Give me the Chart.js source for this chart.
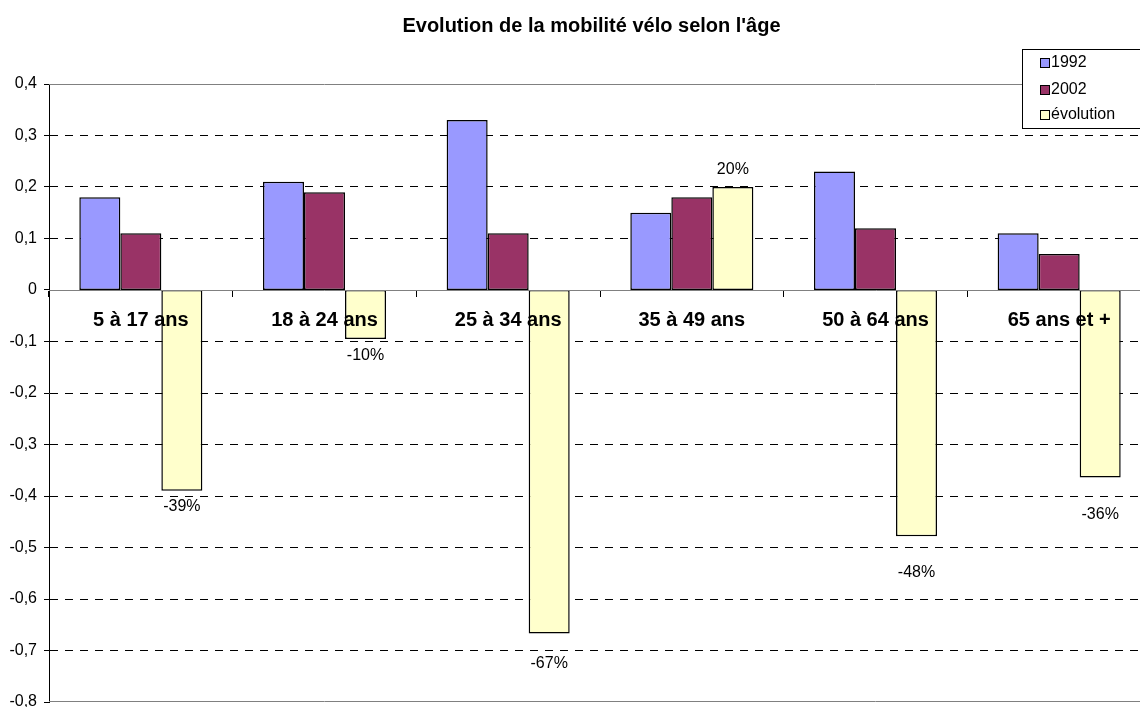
<!DOCTYPE html>
<html><head><meta charset="utf-8">
<script src="https://cdn.jsdelivr.net/npm/chart.js@4.4.0/dist/chart.umd.min.js"></script>
<style>html,body{margin:0;padding:0;overflow:hidden;background:#fff}</style>
</head><body>
<canvas id="c" width="1183" height="715"></canvas>
<script>
const chartTitle = "Evolution de la mobilité vélo selon l'âge";
const categories = ['5 à 17 ans', '18 à 24 ans', '25 à 34 ans', '35 à 49 ans', '50 à 64 ans', '65 ans et +'];
const seriesNames = ['1992', '2002', 'évolution'];
const values1992 = [0.18, 0.21, 0.33, 0.15, 0.23, 0.11];
const values2002 = [0.11, 0.19, 0.11, 0.18, 0.12, 0.07];
const valuesEvolution = [-0.39, -0.095, -0.667, 0.20, -0.478, -0.364];
const yMin = -0.8, yMax = 0.4, yStep = 0.1;
const colors = ['#9999FF', '#993366', '#FFFFCC'];
// distance (px) of each évolution label from the end of its bar (labels were moved in the original)
const labelGap = [16, 17, 30, 17, 36, 37];
const FONT = "'Liberation Sans', Arial, sans-serif";

function fmtTick(v) {
  if (Math.abs(v) < 1e-9) return '0';
  return v.toFixed(1).replace('.', ',');
}
function fmtPct(v) {
  return (v < 0 ? '-' : '') + Math.round(Math.abs(v) * 100) + '%';
}
function isEdge(v) {
  return Math.abs(v - yMax) < 1e-6 || Math.abs(v - yMin) < 1e-6 || Math.abs(v) < 1e-6;
}

const framePlugin = {
  id: 'frame',
  beforeDatasetsDraw(chart) {
    const {ctx, chartArea: a, scales: {y}} = chart;
    ctx.save();
    ctx.strokeStyle = '#808080';
    ctx.lineWidth = 1;
    [yMax, yMin].forEach(v => {
      const py = Math.round(y.getPixelForValue(v)) + 0.5 - (v === yMin ? 1 : 0);
      ctx.beginPath(); ctx.moveTo(a.left, py); ctx.lineTo(a.right, py); ctx.stroke();
    });
    ctx.restore();
  }
};

const labelPlugin = {
  id: 'evoLabels',
  afterDatasetsDraw(chart) {
    const {ctx} = chart;
    const meta = chart.getDatasetMeta(2);
    const data = chart.data.datasets[2].data;
    ctx.save();
    ctx.font = '16px ' + FONT;
    ctx.fillStyle = '#000';
    ctx.textAlign = 'center';
    ctx.textBaseline = 'middle';
    meta.data.forEach((el, i) => {
      const v = data[i];
      const g = labelGap[i];
      const py = v < 0 ? el.y + g : el.y - g;
      ctx.fillText(fmtPct(v), el.x, py);
    });
    ctx.restore();
  }
};

const legendPlugin = {
  id: 'boxLegend',
  afterDraw(chart) {
    const {ctx, chartArea: a} = chart;
    const lx = Math.round(a.right) - 129, ly = 49, lw = 145, lh = 79;
    ctx.save();
    ctx.fillStyle = '#fff';
    ctx.fillRect(lx, ly, lw, lh);
    ctx.strokeStyle = '#000';
    ctx.lineWidth = 1;
    ctx.strokeRect(lx + 0.5, ly + 0.5, lw, lh);
    ctx.font = '16px ' + FONT;
    ctx.textBaseline = 'middle';
    ctx.textAlign = 'left';
    const ys = [63, 89.5, 115];
    chart.data.datasets.forEach((ds, i) => {
      const cy = ys[i];
      ctx.fillStyle = ds.backgroundColor;
      ctx.fillRect(lx + 18, Math.round(cy - 5), 9, 9);
      ctx.strokeRect(lx + 18.5, Math.round(cy - 5) + 0.5, 9, 9);
      ctx.fillStyle = '#000';
      ctx.fillText(ds.label, lx + 29, cy);
    });
    ctx.restore();
  }
};

new Chart(document.getElementById('c'), {
  type: 'bar',
  data: {
    labels: categories,
    datasets: [
      {label: seriesNames[0], data: values1992, backgroundColor: colors[0]},
      {label: seriesNames[1], data: values2002, backgroundColor: colors[1]},
      {label: seriesNames[2], data: valuesEvolution, backgroundColor: colors[2]}
    ]
  },
  options: {
    responsive: false,
    animation: false,
    devicePixelRatio: 1,
    layout: {padding: {left: 0, right: 0, top: 0, bottom: 13}},
    datasets: {
      bar: {
        borderColor: '#000', borderWidth: 1.5, borderSkipped: false,
        categoryPercentage: 0.67, barPercentage: 1
      }
    },
    plugins: {
      legend: {display: false},
      tooltip: {enabled: false},
      title: {
        display: true, text: chartTitle, color: '#000',
        font: {family: FONT, size: 20, weight: 'bold'},
        padding: {top: 14, bottom: 46}
      }
    },
    scales: {
      x: {
        type: 'category',
        position: {y: 0},
        offset: true,
        afterFit(scale) { scale.paddingTop = 0; scale.paddingBottom = 0; scale.paddingLeft = 0; scale.paddingRight = 0; },
        grid: {offset: true, drawOnChartArea: false, drawTicks: true, tickLength: 6, color: '#000', tickColor: '#000'},
        border: {display: true, color: '#808080', width: 1, z: 1},
        ticks: {z: 1, color: '#000', font: {family: FONT, size: 20, weight: 'bold'}, padding: 12, maxRotation: 0, autoSkip: false}
      },
      y: {
        min: yMin, max: yMax,
        afterFit(scale) { scale.width = 49; scale.paddingTop = 0; scale.paddingBottom = 0; },
        grid: {
          color: ctx => isEdge(ctx.tick.value) ? 'rgba(0,0,0,0)' : '#000',
          tickColor: '#000', tickLength: 5, lineWidth: 1
        },
        border: {display: true, color: '#000', width: 1, dash: [8, 7]},
        ticks: {
          stepSize: yStep, color: '#000', padding: 7,
          font: {family: FONT, size: 16},
          callback: v => fmtTick(v)
        }
      },
      spacer: {
        type: 'linear',
        position: 'right',
        display: true,
        afterFit(scale) { scale.width = 32; scale.paddingTop = 0; scale.paddingBottom = 0; },
        grid: {display: false, drawOnChartArea: false},
        border: {display: false},
        ticks: {display: false}
      }
    }
  },
  plugins: [framePlugin, labelPlugin, legendPlugin]
});
</script>
</body></html>
